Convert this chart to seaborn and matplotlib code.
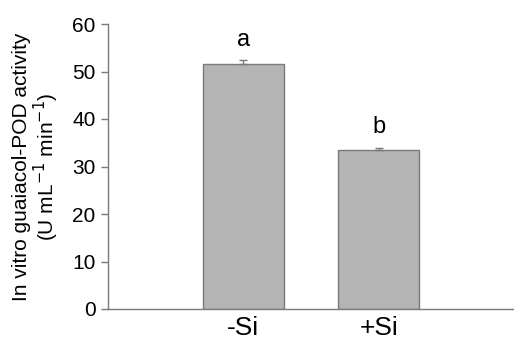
import matplotlib
matplotlib.use("Agg")
import matplotlib.pyplot as plt
import seaborn as sns
import pandas as pd

categories = ["-Si", "+Si"]
values = [51.6, 33.5]
errors = [0.8, 0.5]
letters = ["a", "b"]

sns.set_style("white")
plt.rcParams['font.family'] = ['Liberation Sans', 'DejaVu Sans']
plt.rcParams['text.color'] = 'black'
plt.rcParams['axes.labelcolor'] = 'black'
plt.rcParams['xtick.color'] = 'black'
plt.rcParams['ytick.color'] = 'black'

df = pd.DataFrame({"cond": categories, "val": values})
fig = plt.figure(figsize=(5.14, 3.45), dpi=100)
ax = fig.add_axes([108/514, 1-309/345, 1-108/514, 285/345])
sns.barplot(data=df, x="cond", y="val", ax=ax, color="#b4b4b4", saturation=1,
            width=0.6, edgecolor="#7a7a7a", linewidth=1, errorbar=None)
ax.errorbar(range(len(values)), values, yerr=[[0]*len(errors), errors], fmt="none",
            ecolor="#7a7a7a", elinewidth=1, capsize=3, capthick=1)
for i, (v, e, l) in enumerate(zip(values, errors, letters)):
    ax.text(i, v + e + 2.0, l, ha="center", va="bottom", fontsize=17, color="black")
ax.set_xlim(-1, 2)
ax.set_ylim(0, 60)
ax.set_yticks(range(0, 61, 10))
ax.tick_params(axis="y", labelsize=15, length=5, width=1, color="#7a7a7a", labelcolor="black", direction="out", left=True, pad=4)
ax.tick_params(axis="x", labelsize=19, length=0, pad=5, labelcolor="black")
ax.set_xlabel("")
ax.set_ylabel("In vitro guaiacol-POD activity\n(U mL$^{-1}$ min$^{-1}$)", fontsize=15, labelpad=8, linespacing=1.05, color="black")
for s in ["top", "right"]:
    ax.spines[s].set_visible(False)
for s in ["left", "bottom"]:
    ax.spines[s].set_color("#7a7a7a")
    ax.spines[s].set_linewidth(1)
fig.savefig("out.png", dpi=100)
